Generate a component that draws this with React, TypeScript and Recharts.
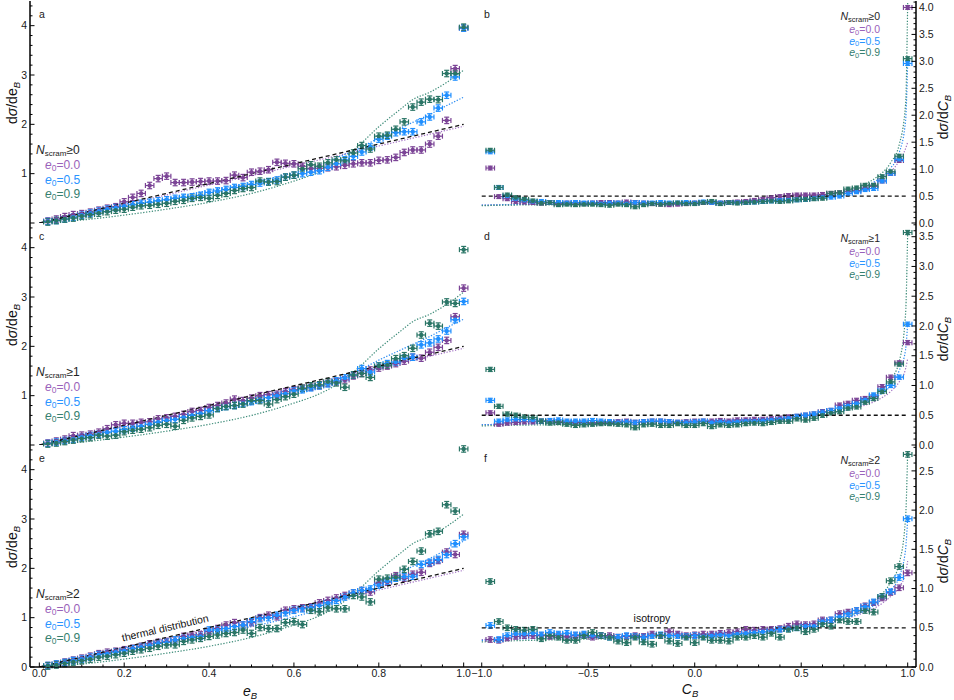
import React from "react";
import { ComposedChart, Scatter, Line, XAxis, YAxis, ErrorBar } from "recharts";

// bin centres
const E_BINS = [0.02, 0.04, 0.06, 0.08, 0.1, 0.12, 0.14, 0.16, 0.18, 0.2, 0.22, 0.24, 0.26, 0.28, 0.3, 0.32, 0.34, 0.36, 0.38, 0.4, 0.42, 0.44, 0.46, 0.48, 0.5, 0.52, 0.54, 0.56, 0.58, 0.6, 0.62, 0.64, 0.66, 0.68, 0.7, 0.72, 0.74, 0.76, 0.78, 0.8, 0.82, 0.84, 0.86, 0.88, 0.9, 0.92, 0.94, 0.96, 0.98, 1.0];
const C_BINS = [-0.96, -0.92, -0.88, -0.84, -0.8, -0.76, -0.72, -0.68, -0.64, -0.6, -0.56, -0.52, -0.48, -0.44, -0.4, -0.36, -0.32, -0.28, -0.24, -0.2, -0.16, -0.12, -0.08, -0.04, 0.0, 0.04, 0.08, 0.12, 0.16, 0.2, 0.24, 0.28, 0.32, 0.36, 0.4, 0.44, 0.48, 0.52, 0.56, 0.6, 0.64, 0.68, 0.72, 0.76, 0.8, 0.84, 0.88, 0.92, 0.96, 1.0];

// panel a  (N_scram >= 0)
const A_PURPLE = [0.04, 0.08, 0.13, 0.17, 0.19, 0.22, 0.26, 0.3, 0.33, 0.43, 0.52, 0.6, 0.76, 0.9, 0.95, 0.82, 0.82, 0.83, 0.84, 0.85, 0.85, 0.86, 0.97, 0.92, 1.03, 1.05, 1.08, 1.23, 1.21, 1.2, 1.15, 1.1, 1.11, 1.12, 1.14, 1.17, 1.2, 1.22, 1.22, 1.27, 1.28, 1.33, 1.43, 1.48, 1.48, 1.6, 1.76, 2.08, 3.13, 3.95];
const A_BLUE = [0.03, 0.05, 0.08, 0.12, 0.16, 0.2, 0.24, 0.28, 0.31, 0.34, 0.37, 0.4, 0.42, 0.45, 0.47, 0.5, 0.52, 0.53, 0.56, 0.62, 0.65, 0.68, 0.72, 0.74, 0.78, 0.81, 0.84, 0.87, 0.93, 0.97, 1.0, 1.03, 1.06, 1.13, 1.2, 1.28, 1.35, 1.44, 1.54, 1.7, 1.76, 1.83, 1.85, 1.85, 2.05, 2.15, 2.33, 2.59, 2.96, 3.95];
const A_GREEN = [0.02, 0.05, 0.08, 0.1, 0.14, 0.17, 0.2, 0.23, 0.26, 0.28, 0.32, 0.35, 0.36, 0.38, 0.4, 0.44, 0.46, 0.5, 0.52, 0.5, 0.56, 0.6, 0.66, 0.7, 0.72, 0.85, 0.83, 0.84, 0.93, 0.97, 1.1, 1.18, 1.15, 1.22, 1.28, 1.26, 1.42, 1.57, 1.5, 1.76, 1.78, 1.9, 2.05, 2.35, 2.45, 2.51, 2.5, 3.03, 3.03, 3.97];

// panel c  (N_scram >= 1)
const C_PURPLE = [0.04, 0.08, 0.12, 0.19, 0.2, 0.22, 0.26, 0.33, 0.41, 0.44, 0.44, 0.46, 0.47, 0.53, 0.55, 0.58, 0.62, 0.68, 0.7, 0.76, 0.8, 0.85, 0.93, 0.9, 0.95, 1.0, 1.02, 1.03, 1.08, 1.12, 1.15, 1.17, 1.2, 1.25, 1.28, 1.32, 1.4, 1.45, 1.52, 1.56, 1.6, 1.65, 1.7, 1.78, 1.76, 1.88, 1.98, 2.12, 2.6, 3.18];
const C_BLUE = [0.03, 0.06, 0.09, 0.12, 0.16, 0.19, 0.22, 0.26, 0.28, 0.31, 0.34, 0.38, 0.42, 0.46, 0.5, 0.52, 0.56, 0.6, 0.64, 0.7, 0.74, 0.78, 0.8, 0.84, 0.88, 0.92, 0.96, 1.0, 1.04, 1.1, 1.12, 1.16, 1.2, 1.24, 1.3, 1.36, 1.42, 1.55, 1.48, 1.6, 1.65, 1.68, 1.76, 1.78, 2.03, 2.07, 2.15, 2.31, 2.54, 2.91];
const C_GREEN = [0.02, 0.04, 0.07, 0.1, 0.13, 0.15, 0.2, 0.18, 0.2, 0.27, 0.3, 0.32, 0.35, 0.4, 0.42, 0.38, 0.5, 0.55, 0.58, 0.61, 0.74, 0.78, 0.8, 0.83, 0.9, 0.9, 0.83, 0.92, 0.98, 1.03, 1.15, 1.2, 1.22, 1.28, 1.26, 1.17, 1.42, 1.45, 1.37, 1.6, 1.62, 1.75, 1.81, 1.96, 2.23, 2.47, 2.41, 2.9, 2.87, 3.96];

// panel e  (N_scram >= 2)
const E_PURPLE = [0.03, 0.06, 0.1, 0.14, 0.18, 0.22, 0.27, 0.3, 0.32, 0.35, 0.38, 0.42, 0.47, 0.5, 0.52, 0.55, 0.62, 0.65, 0.65, 0.72, 0.78, 0.85, 0.9, 0.85, 0.9, 1.0, 1.05, 1.02, 1.15, 1.18, 1.2, 1.22, 1.3, 1.35, 1.4, 1.45, 1.5, 1.55, 1.52, 1.7, 1.72, 1.85, 1.8, 1.88, 1.92, 2.1, 2.16, 2.33, 2.28, 2.69];
const E_BLUE = [0.03, 0.06, 0.09, 0.13, 0.16, 0.2, 0.25, 0.27, 0.3, 0.33, 0.37, 0.4, 0.44, 0.48, 0.5, 0.55, 0.58, 0.6, 0.62, 0.75, 0.75, 0.78, 0.82, 0.85, 0.92, 0.98, 1.0, 1.05, 1.1, 1.15, 1.18, 1.2, 1.25, 1.3, 1.35, 1.42, 1.5, 1.55, 1.58, 1.66, 1.74, 1.8, 1.83, 1.84, 2.08, 2.12, 2.18, 2.28, 2.5, 2.64];
const E_GREEN = [0.02, 0.04, 0.07, 0.1, 0.13, 0.16, 0.2, 0.22, 0.25, 0.28, 0.32, 0.35, 0.38, 0.42, 0.45, 0.45, 0.52, 0.55, 0.58, 0.62, 0.65, 0.68, 0.7, 0.75, 0.68, 0.8, 0.78, 0.78, 0.9, 0.92, 0.86, 1.15, 1.12, 1.2, 1.18, 1.18, 1.45, 1.42, 1.32, 1.78, 1.8, 1.82, 1.98, 2.14, 2.35, 2.7, 2.75, 3.29, 3.16, 4.42];

// panel b
const B_PURPLE = [1.02, 0.49, 0.45, 0.4, 0.39, 0.38, 0.37, 0.38, 0.36, 0.37, 0.37, 0.36, 0.37, 0.38, 0.38, 0.37, 0.39, 0.38, 0.37, 0.36, 0.35, 0.34, 0.35, 0.36, 0.37, 0.38, 0.38, 0.37, 0.38, 0.39, 0.4, 0.42, 0.44, 0.47, 0.49, 0.51, 0.52, 0.52, 0.52, 0.53, 0.55, 0.56, 0.58, 0.6, 0.64, 0.68, 0.78, 0.92, 1.16, 4.0];
const B_BLUE = [1.32, 0.66, 0.5, 0.45, 0.42, 0.4, 0.4, 0.38, 0.38, 0.37, 0.38, 0.37, 0.37, 0.36, 0.37, 0.37, 0.36, 0.38, 0.37, 0.37, 0.38, 0.37, 0.37, 0.38, 0.37, 0.39, 0.38, 0.37, 0.38, 0.38, 0.38, 0.39, 0.4, 0.41, 0.42, 0.42, 0.43, 0.44, 0.46, 0.48, 0.48, 0.5, 0.55, 0.58, 0.62, 0.64, 0.78, 0.92, 1.18, 2.96];
const B_GREEN = [1.35, 0.66, 0.52, 0.47, 0.44, 0.41, 0.37, 0.38, 0.34, 0.35, 0.34, 0.35, 0.35, 0.34, 0.33, 0.35, 0.34, 0.3, 0.34, 0.36, 0.35, 0.36, 0.37, 0.36, 0.36, 0.38, 0.4, 0.36, 0.38, 0.37, 0.38, 0.39, 0.4, 0.41, 0.4, 0.41, 0.43, 0.44, 0.45, 0.46, 0.55, 0.56, 0.63, 0.65, 0.7, 0.7, 0.86, 0.95, 1.24, 3.05];

// panel d
const D_PURPLE = [0.54, 0.35, 0.37, 0.38, 0.39, 0.39, 0.4, 0.4, 0.39, 0.38, 0.38, 0.38, 0.37, 0.38, 0.38, 0.39, 0.4, 0.38, 0.39, 0.4, 0.4, 0.39, 0.38, 0.39, 0.4, 0.4, 0.4, 0.41, 0.4, 0.42, 0.42, 0.43, 0.43, 0.44, 0.45, 0.47, 0.48, 0.5, 0.52, 0.56, 0.58, 0.67, 0.7, 0.75, 0.78, 0.82, 0.98, 1.14, 1.38, 1.72];
const D_BLUE = [0.75, 0.4, 0.42, 0.43, 0.43, 0.42, 0.4, 0.41, 0.42, 0.4, 0.4, 0.4, 0.41, 0.4, 0.39, 0.38, 0.39, 0.38, 0.39, 0.4, 0.4, 0.39, 0.38, 0.38, 0.39, 0.4, 0.38, 0.39, 0.38, 0.39, 0.4, 0.4, 0.41, 0.42, 0.43, 0.45, 0.48, 0.5, 0.52, 0.55, 0.58, 0.62, 0.66, 0.7, 0.76, 0.84, 0.92, 1.0, 1.14, 2.03];
const D_GREEN = [1.27, 0.65, 0.52, 0.5, 0.47, 0.46, 0.4, 0.37, 0.38, 0.35, 0.33, 0.34, 0.35, 0.36, 0.36, 0.35, 0.34, 0.29, 0.34, 0.35, 0.33, 0.33, 0.36, 0.33, 0.33, 0.36, 0.31, 0.34, 0.33, 0.34, 0.36, 0.37, 0.36, 0.38, 0.4, 0.4, 0.44, 0.42, 0.45, 0.5, 0.54, 0.56, 0.62, 0.64, 0.72, 0.78, 0.9, 1.06, 1.36, 3.57];

// panel f
const F_PURPLE = [0.35, 0.34, 0.37, 0.39, 0.4, 0.4, 0.4, 0.39, 0.4, 0.39, 0.4, 0.41, 0.38, 0.4, 0.4, 0.38, 0.39, 0.4, 0.39, 0.42, 0.4, 0.45, 0.42, 0.4, 0.41, 0.42, 0.42, 0.43, 0.44, 0.45, 0.48, 0.47, 0.48, 0.48, 0.49, 0.52, 0.55, 0.54, 0.55, 0.6, 0.6, 0.68, 0.7, 0.72, 0.78, 0.82, 0.88, 0.95, 1.01, 1.2];
const F_BLUE = [0.53, 0.35, 0.4, 0.42, 0.42, 0.43, 0.41, 0.44, 0.42, 0.43, 0.41, 0.42, 0.4, 0.4, 0.38, 0.38, 0.4, 0.39, 0.38, 0.4, 0.41, 0.4, 0.4, 0.39, 0.4, 0.39, 0.4, 0.41, 0.4, 0.42, 0.43, 0.44, 0.45, 0.46, 0.48, 0.49, 0.5, 0.52, 0.52, 0.58, 0.6, 0.64, 0.68, 0.72, 0.77, 0.83, 0.9, 0.96, 1.14, 1.89];
const F_GREEN = [1.09, 0.58, 0.5, 0.48, 0.47, 0.48, 0.36, 0.4, 0.38, 0.34, 0.34, 0.4, 0.44, 0.4, 0.38, 0.33, 0.31, 0.38, 0.32, 0.29, 0.4, 0.33, 0.3, 0.38, 0.31, 0.38, 0.34, 0.34, 0.33, 0.38, 0.38, 0.4, 0.38, 0.43, 0.38, 0.48, 0.5, 0.45, 0.48, 0.55, 0.52, 0.6, 0.58, 0.58, 0.72, 0.7, 0.9, 1.1, 1.28, 2.71];

// model curves (dotted)
const MODEL_E_X = [0, 0.1, 0.2, 0.3, 0.4, 0.5, 0.6, 0.65, 0.7, 0.75, 0.8, 0.85, 0.88, 0.92, 0.96, 1.0];
const E_MOD_PURPLE = [0, 0.19, 0.38, 0.57, 0.77, 0.96, 1.16, 1.26, 1.36, 1.46, 1.56, 1.66, 1.72, 1.8, 1.88, 1.96];
const E_MOD_BLUE = [0, 0.15, 0.32, 0.5, 0.66, 0.82, 1.02, 1.14, 1.32, 1.5, 1.72, 1.92, 2.04, 2.2, 2.38, 2.55];
const E_MOD_GREEN = [0, 0.06, 0.16, 0.28, 0.42, 0.6, 0.85, 1.0, 1.22, 1.55, 1.95, 2.3, 2.5, 2.65, 2.85, 3.1];

const MODEL_C_X = [-1, -0.9, -0.6, -0.2, 0.2, 0.4, 0.6, 0.75, 0.85, 0.92, 0.96, 0.99, 1.0];
const B_MOD_PURPLE = [0.33, 0.34, 0.35, 0.37, 0.41, 0.45, 0.53, 0.63, 0.76, 0.95, 1.15, 1.38, 1.5];
const B_MOD_BLUE = [0.33, 0.34, 0.35, 0.36, 0.39, 0.43, 0.5, 0.62, 0.78, 1.02, 1.3, 1.9, 3.0];
const B_MOD_GREEN = [0.32, 0.33, 0.34, 0.35, 0.38, 0.42, 0.52, 0.66, 0.84, 1.12, 1.45, 2.2, 4.1];
const D_MOD_PURPLE = [0.34, 0.35, 0.37, 0.39, 0.42, 0.45, 0.52, 0.62, 0.74, 0.9, 1.06, 1.28, 1.45];
const D_MOD_BLUE = [0.34, 0.35, 0.36, 0.37, 0.4, 0.43, 0.51, 0.63, 0.8, 1.0, 1.25, 1.6, 2.05];
const D_MOD_GREEN = [0.32, 0.33, 0.34, 0.35, 0.38, 0.42, 0.52, 0.66, 0.86, 1.1, 1.4, 2.2, 3.6];
const F_MOD_PURPLE = [0.35, 0.36, 0.38, 0.4, 0.43, 0.47, 0.55, 0.65, 0.76, 0.9, 1.02, 1.2, 1.35];
const F_MOD_BLUE = [0.34, 0.35, 0.37, 0.39, 0.42, 0.46, 0.54, 0.66, 0.8, 0.98, 1.15, 1.5, 1.9];
const F_MOD_GREEN = [0.32, 0.33, 0.35, 0.37, 0.4, 0.45, 0.54, 0.68, 0.86, 1.08, 1.32, 1.9, 2.75];

// reference lines
const THERMAL_X = [0, 1];
const THERMAL_Y = [0, 2];
const ISO_X = [-1, 1];
const ISO_Y = [0.5, 0.5];

// tick labels
const E_TICKS = [0, 0.2, 0.4, 0.6, 0.8, 1.0];
const C_TICKS = [-1, -0.5, 0, 0.5, 1];
const LEFT_Y_TICKS = [0, 1, 2, 3, 4];
const B_Y_TICKS = [0, 0.5, 1, 1.5, 2, 2.5, 3, 3.5, 4];
const D_Y_TICKS = [0, 0.5, 1, 1.5, 2, 2.5, 3, 3.5];
const F_Y_TICKS = [0, 0.5, 1, 1.5, 2, 2.5];

const E0_LABELS = ["0.0", "0.5", "0.9"];
const NSCRAM = ["0", "1", "2"];
const PANEL_LETTERS = [["a", "b"], ["c", "d"], ["e", "f"]];

const PURPLE = "#7b4496";
const BLUE = "#1f8fff";
const GREEN = "#2a7566";
const TXT = ["#9a62ba", "#2a94ff", "#35806f"];
const DOT = ["#a272c4", "#2b8cf2", "#3c8b78"];
const FONT = "'Liberation Sans', Arial, Helvetica, sans-serif";

const ROW_TOP = [1, 223, 445];
const PLOT_H = 222;
const M_TOP = 4;
const M_BOT = 9;
const GAP = 3;

const steps = (a: number, b: number, s: number) => {
  const out: number[] = [];
  for (let v = a; v <= b + 1e-9; v += s) out.push(Math.round(v * 1000) / 1000);
  return out;
};

const pts = (xs: number[], ys: number[], ex: number, ey: number) =>
  xs.map((x, i) => ({ x, y: ys[i], ex, ey }));
const curve = (xs: number[], ys: number[]) => xs.map((x, i) => ({ x, y: ys[i] }));

type Side = "left" | "right" | "top" | "bottom";

function makeTick(side: Side, majors: number[], labelled: number[], fmt: (v: number) => string) {
  const has = (arr: number[], v: number) => arr.some((m) => Math.abs(m - v) < 1e-6);
  return (props: any) => {
    const { x, y, payload } = props;
    const v = payload.value;
    const len = has(majors, v) ? 4.5 : 2.5;
    const label = has(labelled, v) ? fmt(v) : null;
    const tp = { fontSize: 10.5, fontFamily: FONT, fill: "#1a1a1a" };
    let line: any = null;
    let text: any = null;
    if (side === "left") {
      line = <line x1={x + GAP} x2={x + GAP + len} y1={y} y2={y} stroke="#000" strokeWidth={1} />;
      if (label) text = <text {...tp} x={x} y={y} dy="0.35em" textAnchor="end">{label}</text>;
    } else if (side === "right") {
      line = <line x1={x - GAP} x2={x - GAP - len} y1={y} y2={y} stroke="#000" strokeWidth={1} />;
      if (label) text = <text {...tp} x={x} y={y} dy="0.35em" textAnchor="start">{label}</text>;
    } else if (side === "bottom") {
      line = <line x1={x} x2={x} y1={y - GAP} y2={y - GAP - len} stroke="#000" strokeWidth={1} />;
      if (label) text = <text {...tp} x={x} y={y} dy="0.71em" textAnchor="middle">{label}</text>;
    } else {
      line = <line x1={x} x2={x} y1={y + GAP} y2={y + GAP + len} stroke="#000" strokeWidth={1} />;
    }
    return (
      <g>
        {line}
        {text}
      </g>
    );
  };
}

const FRAME = { stroke: "#000", strokeWidth: 1.5 };

const dotShape = (color: string) => (p: any) =>
  p.cx == null ? <g /> : <circle cx={p.cx} cy={p.cy} r={2.2} fill={color} />;

type PanelProps = {
  col: 0 | 1;
  row: number;
  series: number[][];
  models: number[][];
  yDomain: [number, number];
  yMajors: number[];
  yLabelled: number[];
  yMinor: number;
};

function Panel({ col, row, series, models, yDomain, yMajors, yLabelled, yMinor }: PanelProps) {
  const isE = col === 0;
  const bins = isE ? E_BINS : C_BINS;
  const ex = isE ? 0.01 : 0.02;
  const ey = isE ? 0.065 : 0.035;
  const xDomain: [number, number] = isE ? [-0.022, 1.022] : [-1.041, 1.039];
  const xMajors = isE ? E_TICKS : C_TICKS;
  const xTicks = isE ? steps(0, 1, 0.05) : steps(-1, 1, 0.1);
  const yTicks = steps(0, yDomain[1], yMinor);
  const last = row === 2;
  const bottomH = last ? 30 : 0;
  const mainW = isE ? 30 : 38;
  const width = isE ? 478 : 486;
  const left = isE ? 0 : 468;
  const margin = isE
    ? { top: M_TOP, right: 5, bottom: M_BOT, left: 0 }
    : { top: M_TOP, right: 0, bottom: M_BOT, left: 5 };
  const height = M_TOP + PLOT_H + bottomH + M_BOT;
  const xFmt = (v: number) => (v < 0 ? "\u2212" + Math.abs(v).toFixed(1) : v.toFixed(1));
  const yFmt = (v: number) => (isE ? String(v) : v.toFixed(1));
  const colors = [PURPLE, BLUE, GREEN];
  const modelX = isE ? MODEL_E_X : MODEL_C_X;
  const refData = isE ? curve(THERMAL_X, THERMAL_Y) : curve(ISO_X, ISO_Y);

  return (
    <div style={{ position: "absolute", left, top: ROW_TOP[row] - M_TOP }}>
      <ComposedChart width={width} height={height} margin={margin}>
        <XAxis
          dataKey="x"
          type="number"
          domain={xDomain}
          allowDataOverflow
          ticks={xTicks}
          interval={0}
          height={bottomH}
          tickSize={0}
          tickMargin={GAP}
          axisLine={FRAME}
          tickLine={false}
          tick={makeTick("bottom", xMajors, last ? xMajors : [], xFmt)}
        />
        <XAxis
          xAxisId="top"
          orientation="top"
          type="number"
          domain={xDomain}
          allowDataOverflow
          ticks={xTicks}
          interval={0}
          height={0}
          tickSize={0}
          tickMargin={GAP}
          axisLine={FRAME}
          tickLine={false}
          tick={makeTick("top", xMajors, [], xFmt)}
        />
        <YAxis
          orientation={isE ? "left" : "right"}
          type="number"
          domain={yDomain}
          allowDataOverflow
          ticks={yTicks}
          interval={0}
          width={mainW}
          tickSize={0}
          tickMargin={GAP}
          axisLine={FRAME}
          tickLine={false}
          tick={makeTick(isE ? "left" : "right", yMajors, yLabelled, yFmt)}
        />
        <YAxis
          yAxisId="other"
          orientation={isE ? "right" : "left"}
          type="number"
          domain={yDomain}
          allowDataOverflow
          ticks={yTicks}
          interval={0}
          width={0}
          tickSize={0}
          tickMargin={GAP}
          axisLine={FRAME}
          tickLine={false}
          tick={makeTick(isE ? "right" : "left", yMajors, [], yFmt)}
        />
        {models.map((m, i) => (
          <Line
            key={"m" + i}
            data={curve(modelX, m)}
            dataKey="y"
            type="monotone"
            stroke={DOT[i]}
            strokeWidth={1.2}
            strokeDasharray="1.3 1.6"
            dot={false}
            activeDot={false}
            isAnimationActive={false}
          />
        ))}
        {series.map((s, i) => (
          <Scatter
            key={"s" + i}
            data={pts(bins, s, ex, ey)}
            dataKey="y"
            fill={colors[i]}
            shape={dotShape(colors[i])}
            isAnimationActive={false}
          >
            <ErrorBar dataKey="ex" direction="x" width={2.5} strokeWidth={1.2} stroke={colors[i]} />
            <ErrorBar dataKey="ey" direction="y" width={2.5} strokeWidth={1.2} stroke={colors[i]} />
          </Scatter>
        ))}
        <Line
          data={refData}
          dataKey="y"
          type="linear"
          stroke="#111"
          strokeWidth={1.3}
          strokeDasharray="4 3"
          dot={false}
          activeDot={false}
          isAnimationActive={false}
        />
      </ComposedChart>
    </div>
  );
}

function LeftLegend({ top, n }: { top: number; n: string }) {
  return (
    <g fontFamily={FONT}>
      <text x={36} y={top + 153} fontSize={12} fill="#222">
        <tspan fontStyle="italic">N</tspan>
        <tspan fontSize={8} dy={2}>scram</tspan>
        <tspan dy={-2}>{"\u2265" + n}</tspan>
      </text>
      {E0_LABELS.map((l, i) => (
        <text key={l} x={45} y={top + 168 + i * 14.6} fontSize={12} fill={TXT[i]}>
          <tspan fontStyle="italic">e</tspan>
          <tspan fontSize={8.5} dy={2}>0</tspan>
          <tspan dy={-2}>{"=" + l}</tspan>
        </text>
      ))}
    </g>
  );
}

function RightLegend({ top, n }: { top: number; n: string }) {
  return (
    <g fontFamily={FONT} textAnchor="end">
      <text x={880} y={top + 19} fontSize={10.5} fill="#222">
        <tspan fontStyle="italic">N</tspan>
        <tspan fontSize={7.5} dy={1.5}>scram</tspan>
        <tspan dy={-1.5}>{"\u2265" + n}</tspan>
      </text>
      {E0_LABELS.map((l, i) => (
        <text key={l} x={880} y={top + 32 + i * 11.7} fontSize={10.5} fill={TXT[i]}>
          <tspan fontStyle="italic">e</tspan>
          <tspan fontSize={7.5} dy={1.5}>0</tspan>
          <tspan dy={-1.5}>{"=" + l}</tspan>
        </text>
      ))}
    </g>
  );
}

function Overlay() {
  return (
    <svg
      width={954}
      height={700}
      style={{ position: "absolute", left: 0, top: 0, pointerEvents: "none" }}
      fontFamily={FONT}
    >
      {ROW_TOP.map((t, r) => (
        <g key={r}>
          <text x={39} y={t + 17} fontSize={10.5} fill="#222">{PANEL_LETTERS[r][0]}</text>
          <text x={484} y={t + 17} fontSize={10.5} fill="#222">{PANEL_LETTERS[r][1]}</text>
          <text transform={`translate(17, ${t + 102}) rotate(-90)`} textAnchor="middle" fontSize={14} fill="#111">
            d<tspan fontStyle="italic">σ</tspan>/de
            <tspan fontStyle="italic" fontSize={9.5} dy={3}>B</tspan>
          </text>
          <text transform={`translate(948, ${t + 116}) rotate(-90)`} textAnchor="middle" fontSize={14} fill="#111">
            d<tspan fontStyle="italic">σ</tspan>/d<tspan fontStyle="italic">C</tspan>
            <tspan fontStyle="italic" fontSize={9.5} dy={3}>B</tspan>
          </text>
          <LeftLegend top={t} n={NSCRAM[r]} />
          <RightLegend top={t} n={NSCRAM[r]} />
        </g>
      ))}
      <text x={250} y={696} textAnchor="middle" fontSize={14} fill="#111">
        <tspan fontStyle="italic">e</tspan>
        <tspan fontStyle="italic" fontSize={9.5} dy={3}>B</tspan>
      </text>
      <text x={690} y={694} textAnchor="middle" fontSize={14} fill="#111">
        <tspan fontStyle="italic">C</tspan>
        <tspan fontStyle="italic" fontSize={9.5} dy={3}>B</tspan>
      </text>
      <text transform="translate(166, 631.5) rotate(-13.1)" textAnchor="middle" fontSize={10.5} fill="#111">
        thermal distribution
      </text>
      <text x={652} y={622} textAnchor="middle" fontSize={10.5} fill="#111">
        isotropy
      </text>
    </svg>
  );
}

export default function App() {
  return (
    <div style={{ position: "absolute", left: 0, top: 0, width: 954, height: 700, background: "#fff" }}>
      <Panel col={0} row={0} series={[A_PURPLE, A_BLUE, A_GREEN]} models={[E_MOD_PURPLE, E_MOD_BLUE, E_MOD_GREEN]}
        yDomain={[0, 4.5]} yMajors={LEFT_Y_TICKS} yLabelled={[1, 2, 3, 4]} yMinor={0.2} />
      <Panel col={1} row={0} series={[B_PURPLE, B_BLUE, B_GREEN]} models={[B_MOD_PURPLE, B_MOD_BLUE, B_MOD_GREEN]}
        yDomain={[0, 4.12]} yMajors={B_Y_TICKS} yLabelled={B_Y_TICKS} yMinor={0.1} />
      <Panel col={0} row={1} series={[C_PURPLE, C_BLUE, C_GREEN]} models={[E_MOD_PURPLE, E_MOD_BLUE, E_MOD_GREEN]}
        yDomain={[0, 4.5]} yMajors={LEFT_Y_TICKS} yLabelled={[1, 2, 3, 4]} yMinor={0.2} />
      <Panel col={1} row={1} series={[D_PURPLE, D_BLUE, D_GREEN]} models={[D_MOD_PURPLE, D_MOD_BLUE, D_MOD_GREEN]}
        yDomain={[0, 3.73]} yMajors={D_Y_TICKS} yLabelled={D_Y_TICKS} yMinor={0.1} />
      <Panel col={0} row={2} series={[E_PURPLE, E_BLUE, E_GREEN]} models={[E_MOD_PURPLE, E_MOD_BLUE, E_MOD_GREEN]}
        yDomain={[0, 4.5]} yMajors={LEFT_Y_TICKS} yLabelled={LEFT_Y_TICKS} yMinor={0.2} />
      <Panel col={1} row={2} series={[F_PURPLE, F_BLUE, F_GREEN]} models={[F_MOD_PURPLE, F_MOD_BLUE, F_MOD_GREEN]}
        yDomain={[0, 2.83]} yMajors={F_Y_TICKS} yLabelled={F_Y_TICKS} yMinor={0.1} />
      <Overlay />
    </div>
  );
}
